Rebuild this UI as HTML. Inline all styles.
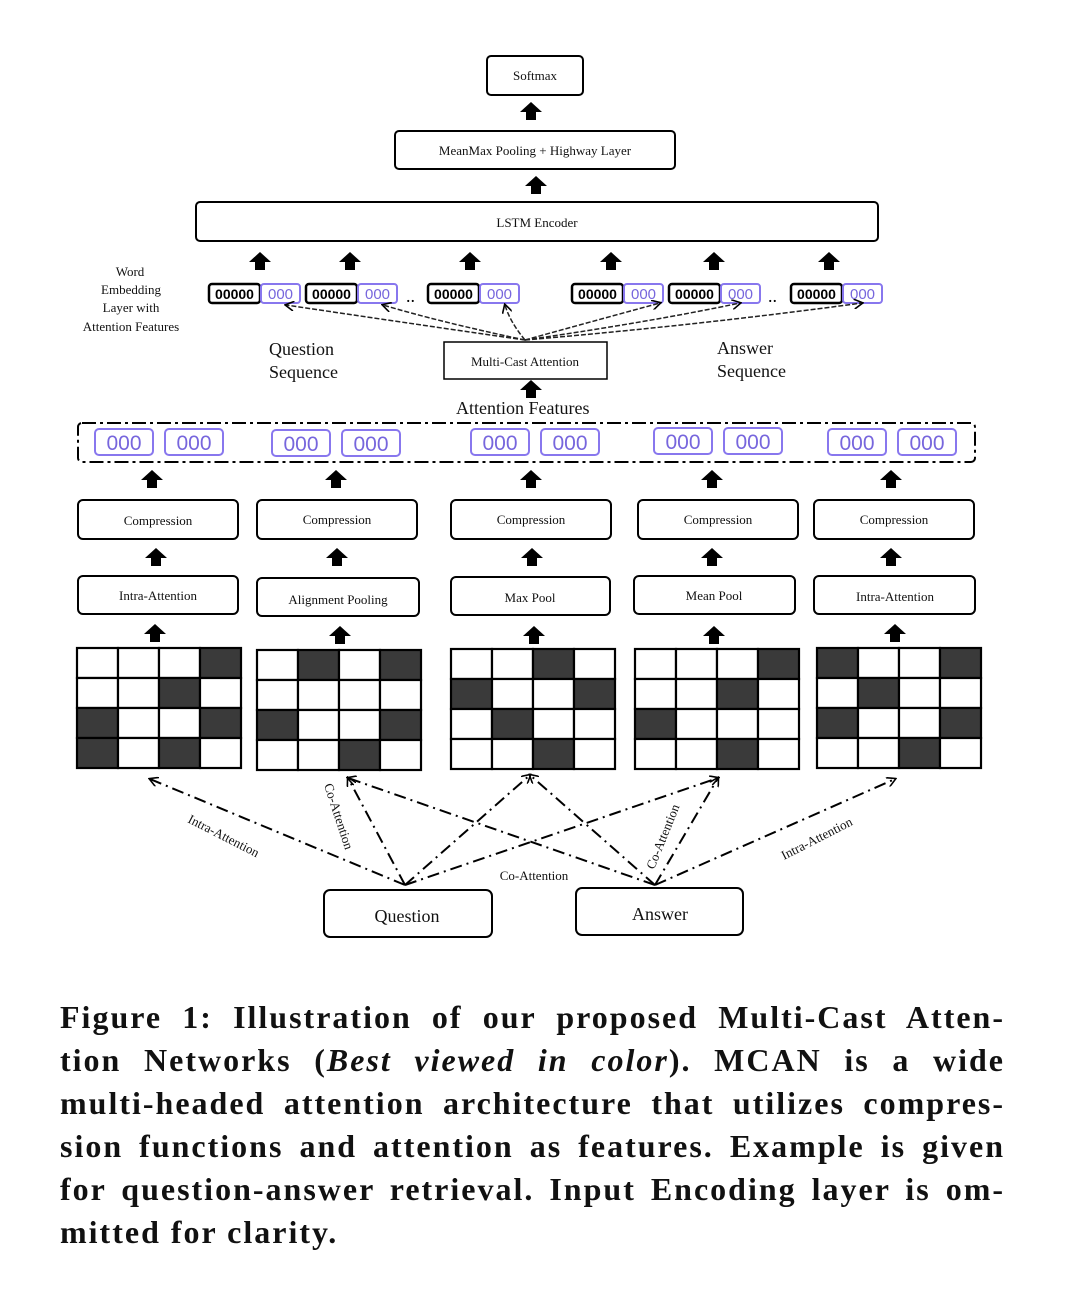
<!DOCTYPE html>
<html><head><meta charset="utf-8"><style>
body{margin:0;background:#fff;width:1080px;height:1289px;overflow:hidden;position:relative}
svg{position:absolute;left:0;top:0}
.cap{position:absolute;left:60px;top:996px;width:945px;font-family:"Liberation Serif",serif;font-weight:bold;font-size:32px;line-height:43px;color:#111;letter-spacing:2px}
.cap div{text-align:justify;text-align-last:justify;white-space:nowrap;height:43px}
.cap div.l{text-align-last:left}
</style></head><body>
<svg width="1080" height="1289" font-family="Liberation Serif,serif">
<defs>
<path id="ua" d="M-11,0 L0,-10 L11,0 L5,0 L5,8 L-5,8 L-5,0 Z" fill="#000"/>
<marker id="ah" markerWidth="10" markerHeight="10" refX="8" refY="5" orient="auto" markerUnits="userSpaceOnUse"><path d="M0,0 L9,5 L0,10" fill="none" stroke="#000" stroke-width="1.6"/></marker>
<g id="we">
<rect x="0" y="0" width="51" height="19" rx="3" fill="#fff" stroke="#000" stroke-width="2.5"/><text x="25.5" y="15" text-anchor="middle" fill="#000" font-family="Liberation Sans,sans-serif" font-size="14" font-weight="bold">00000</text>
<rect x="52" y="0" width="39" height="19" rx="3" fill="#fff" stroke="#8877ee" stroke-width="2"/><text x="71.5" y="15" text-anchor="middle" fill="#7766dd" font-family="Liberation Sans,sans-serif" font-size="15">000</text>
</g>
<g id="pp"><rect x="0" y="0" width="58" height="26" rx="4" fill="#fff" stroke="#8877ee" stroke-width="2"/><text x="29" y="21" text-anchor="middle" fill="#7766dd" font-family="Liberation Sans,sans-serif" font-size="21">000</text>
<rect x="70" y="0" width="58" height="26" rx="4" fill="#fff" stroke="#8877ee" stroke-width="2"/><text x="99" y="21" text-anchor="middle" fill="#7766dd" font-family="Liberation Sans,sans-serif" font-size="21">000</text></g>
</defs>
<g fill="#fff" stroke="#000" stroke-width="2">
<rect x="487" y="56" width="96" height="39" rx="4"/>
<rect x="395" y="131" width="280" height="38" rx="4"/>
<rect x="196" y="202" width="682" height="39" rx="4"/>
<rect x="444" y="342" width="163" height="37" stroke-width="1.5"/>
<rect x="78" y="500" width="160" height="39" rx="5"/><rect x="257" y="500" width="160" height="39" rx="5"/><rect x="451" y="500" width="160" height="39" rx="5"/><rect x="638" y="500" width="160" height="39" rx="5"/><rect x="814" y="500" width="160" height="39" rx="5"/>
<rect x="78" y="576" width="160" height="38" rx="5"/><rect x="257" y="578" width="162" height="38" rx="5"/><rect x="451" y="577" width="159" height="38" rx="5"/><rect x="634" y="576" width="161" height="38" rx="5"/><rect x="814" y="576" width="161" height="38" rx="5"/>
<rect x="324" y="890" width="168" height="47" rx="6"/><rect x="576" y="888" width="167" height="47" rx="6"/>
</g>
<rect x="78" y="423" width="897" height="39" rx="4" fill="none" stroke="#000" stroke-width="2" stroke-dasharray="14,4,3,4"/>
<g font-size="13" text-anchor="middle" fill="#111">
<text x="535" y="80">Softmax</text>
<text x="535" y="155">MeanMax Pooling + Highway Layer</text>
<text x="537" y="227">LSTM Encoder</text>
<text x="525" y="366">Multi-Cast Attention</text>
<text x="158" y="525">Compression</text><text x="337" y="524">Compression</text><text x="531" y="524">Compression</text><text x="718" y="524">Compression</text><text x="894" y="524">Compression</text>
<text x="158" y="600">Intra-Attention</text><text x="338" y="604">Alignment Pooling</text><text x="530" y="602">Max Pool</text><text x="714" y="600">Mean Pool</text><text x="895" y="601">Intra-Attention</text>
<text x="130" y="276">Word</text><text x="131" y="294">Embedding</text><text x="131" y="312">Layer with</text><text x="131" y="331">Attention Features</text>
<text x="534" y="880">Co-Attention</text>
</g>
<g font-size="18" fill="#111">
<text x="269" y="355">Question</text><text x="269" y="378">Sequence</text>
<text x="717" y="354">Answer</text><text x="717" y="377">Sequence</text>
<text x="456" y="414">Attention Features</text>
<text x="407" y="922" text-anchor="middle">Question</text>
<text x="660" y="920" text-anchor="middle">Answer</text>
</g>
<g font-size="13" fill="#111">
<text transform="translate(187,822) rotate(27)">Intra-Attention</text>
<text transform="translate(324,785) rotate(72)">Co-Attention</text>
<text transform="translate(654,870) rotate(-68)">Co-Attention</text>
<text transform="translate(784,860) rotate(-27)">Intra-Attention</text>
</g>
<g>
<use href="#ua" x="531" y="112"/><use href="#ua" x="536" y="186"/>
<use href="#ua" x="260" y="262"/><use href="#ua" x="350" y="262"/><use href="#ua" x="470" y="262"/><use href="#ua" x="611" y="262"/><use href="#ua" x="714" y="262"/><use href="#ua" x="829" y="262"/>
<use href="#ua" x="531" y="390"/>
<use href="#ua" x="152" y="480"/><use href="#ua" x="336" y="480"/><use href="#ua" x="531" y="480"/><use href="#ua" x="712" y="480"/><use href="#ua" x="891" y="480"/>
<use href="#ua" x="156" y="558"/><use href="#ua" x="337" y="558"/><use href="#ua" x="532" y="558"/><use href="#ua" x="712" y="558"/><use href="#ua" x="891" y="558"/>
<use href="#ua" x="155" y="634"/><use href="#ua" x="340" y="636"/><use href="#ua" x="534" y="636"/><use href="#ua" x="714" y="636"/><use href="#ua" x="895" y="634"/>
</g>
<use href="#we" x="209" y="284"/><use href="#we" x="306" y="284"/><use href="#we" x="428" y="284"/>
<use href="#we" x="572" y="284"/><use href="#we" x="669" y="284"/><use href="#we" x="791" y="284"/>
<text x="406" y="302" font-size="18">..</text><text x="768" y="302" font-size="18">..</text>
<use href="#pp" x="95" y="429"/><use href="#pp" x="272" y="430"/><use href="#pp" x="471" y="429"/><use href="#pp" x="654" y="428"/><use href="#pp" x="828" y="429"/>
<g fill="none" stroke="#222" stroke-width="1.5" stroke-dasharray="5,2" marker-end="url(#ah)">
<path d="M525,340 Q400,322 286,305"/><path d="M525,340 Q440,322 383,305"/><path d="M525,340 Q510,322 505,305"/>
<path d="M525,340 Q590,322 660,303"/><path d="M525,340 Q650,322 740,303"/><path d="M525,340 Q700,325 862,303"/>
</g>
<g stroke="#000" stroke-width="2.2">
<g transform="translate(77,648)">
<rect width="41" height="30" fill="#fff"/><rect x="41" width="41" height="30" fill="#fff"/><rect x="82" width="41" height="30" fill="#fff"/><rect x="123" width="41" height="30" fill="#3a3a3a"/>
<rect y="30" width="41" height="30" fill="#fff"/><rect x="41" y="30" width="41" height="30" fill="#fff"/><rect x="82" y="30" width="41" height="30" fill="#3a3a3a"/><rect x="123" y="30" width="41" height="30" fill="#fff"/>
<rect y="60" width="41" height="30" fill="#3a3a3a"/><rect x="41" y="60" width="41" height="30" fill="#fff"/><rect x="82" y="60" width="41" height="30" fill="#fff"/><rect x="123" y="60" width="41" height="30" fill="#3a3a3a"/>
<rect y="90" width="41" height="30" fill="#3a3a3a"/><rect x="41" y="90" width="41" height="30" fill="#fff"/><rect x="82" y="90" width="41" height="30" fill="#3a3a3a"/><rect x="123" y="90" width="41" height="30" fill="#fff"/>
</g>
<g transform="translate(257,650)">
<rect width="41" height="30" fill="#fff"/><rect x="41" width="41" height="30" fill="#3a3a3a"/><rect x="82" width="41" height="30" fill="#fff"/><rect x="123" width="41" height="30" fill="#3a3a3a"/>
<rect y="30" width="41" height="30" fill="#fff"/><rect x="41" y="30" width="41" height="30" fill="#fff"/><rect x="82" y="30" width="41" height="30" fill="#fff"/><rect x="123" y="30" width="41" height="30" fill="#fff"/>
<rect y="60" width="41" height="30" fill="#3a3a3a"/><rect x="41" y="60" width="41" height="30" fill="#fff"/><rect x="82" y="60" width="41" height="30" fill="#fff"/><rect x="123" y="60" width="41" height="30" fill="#3a3a3a"/>
<rect y="90" width="41" height="30" fill="#fff"/><rect x="41" y="90" width="41" height="30" fill="#fff"/><rect x="82" y="90" width="41" height="30" fill="#3a3a3a"/><rect x="123" y="90" width="41" height="30" fill="#fff"/>
</g>
<g transform="translate(451,649)">
<rect width="41" height="30" fill="#fff"/><rect x="41" width="41" height="30" fill="#fff"/><rect x="82" width="41" height="30" fill="#3a3a3a"/><rect x="123" width="41" height="30" fill="#fff"/>
<rect y="30" width="41" height="30" fill="#3a3a3a"/><rect x="41" y="30" width="41" height="30" fill="#fff"/><rect x="82" y="30" width="41" height="30" fill="#fff"/><rect x="123" y="30" width="41" height="30" fill="#3a3a3a"/>
<rect y="60" width="41" height="30" fill="#fff"/><rect x="41" y="60" width="41" height="30" fill="#3a3a3a"/><rect x="82" y="60" width="41" height="30" fill="#fff"/><rect x="123" y="60" width="41" height="30" fill="#fff"/>
<rect y="90" width="41" height="30" fill="#fff"/><rect x="41" y="90" width="41" height="30" fill="#fff"/><rect x="82" y="90" width="41" height="30" fill="#3a3a3a"/><rect x="123" y="90" width="41" height="30" fill="#fff"/>
</g>
<g transform="translate(635,649)">
<rect width="41" height="30" fill="#fff"/><rect x="41" width="41" height="30" fill="#fff"/><rect x="82" width="41" height="30" fill="#fff"/><rect x="123" width="41" height="30" fill="#3a3a3a"/>
<rect y="30" width="41" height="30" fill="#fff"/><rect x="41" y="30" width="41" height="30" fill="#fff"/><rect x="82" y="30" width="41" height="30" fill="#3a3a3a"/><rect x="123" y="30" width="41" height="30" fill="#fff"/>
<rect y="60" width="41" height="30" fill="#3a3a3a"/><rect x="41" y="60" width="41" height="30" fill="#fff"/><rect x="82" y="60" width="41" height="30" fill="#fff"/><rect x="123" y="60" width="41" height="30" fill="#fff"/>
<rect y="90" width="41" height="30" fill="#fff"/><rect x="41" y="90" width="41" height="30" fill="#fff"/><rect x="82" y="90" width="41" height="30" fill="#3a3a3a"/><rect x="123" y="90" width="41" height="30" fill="#fff"/>
</g>
<g transform="translate(817,648)">
<rect width="41" height="30" fill="#3a3a3a"/><rect x="41" width="41" height="30" fill="#fff"/><rect x="82" width="41" height="30" fill="#fff"/><rect x="123" width="41" height="30" fill="#3a3a3a"/>
<rect y="30" width="41" height="30" fill="#fff"/><rect x="41" y="30" width="41" height="30" fill="#3a3a3a"/><rect x="82" y="30" width="41" height="30" fill="#fff"/><rect x="123" y="30" width="41" height="30" fill="#fff"/>
<rect y="60" width="41" height="30" fill="#3a3a3a"/><rect x="41" y="60" width="41" height="30" fill="#fff"/><rect x="82" y="60" width="41" height="30" fill="#fff"/><rect x="123" y="60" width="41" height="30" fill="#3a3a3a"/>
<rect y="90" width="41" height="30" fill="#fff"/><rect x="41" y="90" width="41" height="30" fill="#fff"/><rect x="82" y="90" width="41" height="30" fill="#3a3a3a"/><rect x="123" y="90" width="41" height="30" fill="#fff"/>
</g>
</g>
<g fill="none" stroke="#000" stroke-width="2" stroke-dasharray="12,5,2,5" marker-end="url(#ah)">
<path d="M405,885 L150,779"/>
<path d="M405,885 L348,778"/>
<path d="M405,885 L530,775"/>
<path d="M405,885 L718,778"/>
<path d="M655,885 L348,778"/>
<path d="M655,885 L530,775"/>
<path d="M655,885 L718,778"/>
<path d="M655,885 L895,779"/>
</g>
</svg>
<div class="cap">
<div>Figure 1: Illustration of our proposed Multi-Cast Atten-</div>
<div>tion Networks (<i>Best viewed in color</i>). MCAN is a wide</div>
<div>multi-headed attention architecture that utilizes compres-</div>
<div>sion functions and attention as features. Example is given</div>
<div>for question-answer retrieval. Input Encoding layer is om-</div>
<div class="l">mitted for clarity.</div>
</div>
</body></html>
